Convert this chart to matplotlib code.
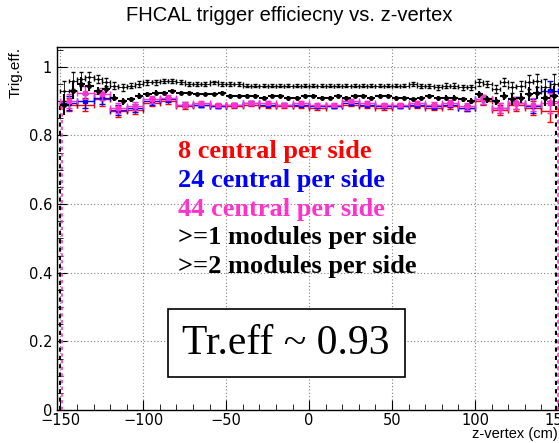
import numpy as np
import matplotlib.pyplot as plt
from matplotlib.ticker import MultipleLocator

# colored series: 10 cm bins from -150 to 150
z10 = np.arange(-145, 150, 10)
eff_8 = [0.89, 0.89, 0.905, 0.87, 0.875, 0.895, 0.90, 0.885, 0.89, 0.885,
         0.885, 0.89, 0.885, 0.885, 0.885, 0.88, 0.885, 0.89, 0.885, 0.88,
         0.885, 0.885, 0.88, 0.885, 0.88, 0.90, 0.875, 0.89, 0.88, 0.87]
eff_24 = [0.895, 0.90, 0.91, 0.875, 0.88, 0.90, 0.905, 0.89, 0.89, 0.885,
          0.89, 0.895, 0.89, 0.89, 0.89, 0.885, 0.885, 0.895, 0.89, 0.885,
          0.885, 0.89, 0.885, 0.89, 0.88, 0.905, 0.88, 0.895, 0.885, 0.93]
eff_44 = [0.90, 0.925, 0.92, 0.88, 0.885, 0.905, 0.91, 0.89, 0.895, 0.89,
          0.89, 0.895, 0.895, 0.89, 0.895, 0.89, 0.89, 0.90, 0.895, 0.89,
          0.89, 0.895, 0.89, 0.895, 0.885, 0.905, 0.88, 0.895, 0.89, 0.895]
err_col = [0.02, 0.02, 0.018, 0.015, 0.012, 0.01, 0.008, 0.007, 0.006, 0.006,
           0.006, 0.005, 0.005, 0.005, 0.005, 0.005, 0.005, 0.005, 0.005, 0.006,
           0.006, 0.006, 0.007, 0.008, 0.01, 0.012, 0.015, 0.018, 0.02, 0.03]

# black series: 5 cm bins
z5 = np.arange(-147.5, 150, 5)
eff_ge1 = [0.93, 0.96, 0.965, 0.97, 0.965, 0.955, 0.945, 0.94, 0.945, 0.95,
           0.955, 0.955, 0.96, 0.96, 0.955, 0.95, 0.95, 0.95, 0.955, 0.95,
           0.95, 0.95, 0.945, 0.945, 0.945, 0.945, 0.945, 0.945, 0.945, 0.945,
           0.945, 0.945, 0.945, 0.945, 0.945, 0.945, 0.945, 0.945, 0.945, 0.945,
           0.945, 0.945, 0.95, 0.945, 0.945, 0.94, 0.945, 0.945, 0.94, 0.94,
           0.955, 0.95, 0.935, 0.955, 0.94, 0.945, 0.955, 0.96, 0.94, 0.95]
eff_ge2 = [0.89, 0.93, 0.95, 0.945, 0.93, 0.935, 0.91, 0.90, 0.905, 0.915,
           0.92, 0.925, 0.925, 0.93, 0.925, 0.925, 0.92, 0.92, 0.92, 0.925,
           0.915, 0.915, 0.915, 0.915, 0.91, 0.915, 0.915, 0.91, 0.91, 0.915,
           0.915, 0.91, 0.91, 0.915, 0.91, 0.915, 0.915, 0.91, 0.915, 0.915,
           0.91, 0.91, 0.905, 0.91, 0.915, 0.91, 0.91, 0.91, 0.905, 0.90,
           0.92, 0.905, 0.90, 0.915, 0.905, 0.91, 0.92, 0.925, 0.91, 0.915]
err_blk = [0.03, 0.025, 0.02, 0.015, 0.012, 0.012, 0.01, 0.01, 0.008, 0.008,
           0.007, 0.007, 0.006, 0.006, 0.006, 0.005, 0.005, 0.005, 0.005, 0.005,
           0.005, 0.005, 0.005, 0.005, 0.005, 0.005, 0.005, 0.005, 0.005, 0.005,
           0.005, 0.005, 0.005, 0.005, 0.005, 0.005, 0.005, 0.005, 0.005, 0.005,
           0.005, 0.005, 0.005, 0.006, 0.006, 0.006, 0.007, 0.007, 0.008, 0.008,
           0.01, 0.01, 0.012, 0.012, 0.015, 0.015, 0.02, 0.02, 0.025, 0.03]

labels = ["8 central per side", "24 central per side", "44 central per side",
          ">=1 modules per side", ">=2 modules per side"]
label_colors = ["#ff0000", "#0000ff", "#ff33cc", "black", "black"]

fig = plt.figure(figsize=(5.59, 4.43), dpi=100)
ax = fig.add_axes([0.102, 0.0745, 0.902, 0.8195])

# edge bins drawn from zero
for xe in (-150, 149):
    ax.vlines(xe, 0, 0.9, colors="black", linestyles=(0, (2, 2)), lw=1.5, zorder=3)
    ax.vlines(xe + 0.8, 0, 0.9, colors="#ff33cc", linestyles=(0, (2, 2)), lw=1.2, zorder=3)

ax.errorbar(z10, eff_8, xerr=5, yerr=err_col, fmt="none", ecolor="#ff0000",
            elinewidth=1, capsize=2, zorder=4)
ax.errorbar(z10, eff_24, xerr=5, yerr=err_col, fmt="s", color="#0000ff", ms=2.5,
            elinewidth=1, capsize=2, zorder=5)
ax.errorbar(z10, eff_44, xerr=5, yerr=err_col, fmt="s", color="#ff33cc", ms=2.5,
            elinewidth=1, capsize=2, zorder=6)

ax.errorbar(z5, eff_ge2, xerr=2.5, yerr=err_blk, fmt="o", color="black", ms=2.5,
            elinewidth=1.5, capsize=0, zorder=7)
ax.errorbar(z5, eff_ge1, xerr=2.5, yerr=err_blk, fmt=".", color="black", ms=2,
            elinewidth=0.6, capsize=1.5, zorder=7)

ax.set_xlim(-152, 152)
ax.set_ylim(0, 1.058)
ax.xaxis.set_major_locator(MultipleLocator(50))
ax.xaxis.set_minor_locator(MultipleLocator(10))
ax.yaxis.set_major_locator(MultipleLocator(0.2))
ax.yaxis.set_minor_locator(MultipleLocator(0.05))
ax.tick_params(which="both", direction="in", labelsize=10.5, top=False, right=False)
ax.tick_params(which="major", length=7)
ax.tick_params(which="minor", length=4)
ax.tick_params(axis="x", pad=2)
ax.set_yticks([0, 0.2, 0.4, 0.6, 0.8, 1.0])
ax.set_yticklabels(["0", "0.2", "0.4", "0.6", "0.8", "1"])
ax.grid(True, which="major", color="gray", linestyle=(0, (1, 2)), lw=0.8)
for sp in ax.spines.values():
    sp.set_linewidth(1)

fig.text(0.517, 0.965, "FHCAL trigger efficiecny vs. z-vertex", ha="center",
         va="center", fontsize=14.5, family="Liberation Sans")
fig.text(0.016, 0.894, "Trig.eff.", rotation=90, ha="left", va="top",
         fontsize=11, family="Liberation Sans")
fig.text(0.998, 0.005, "z-vertex (cm)", ha="right", va="bottom",
         fontsize=10.5, family="Liberation Sans")

for i, (lab, col) in enumerate(zip(labels, label_colors)):
    fig.text(0.318, 0.658 - i * 0.065, lab, color=col, fontsize=19,
             fontweight="bold", family="Liberation Serif", va="center")

fig.text(0.512, 0.225, "Tr.eff ~ 0.93", ha="center", va="center", fontsize=30,
         family="Liberation Serif",
         bbox=dict(boxstyle="square,pad=0.35", fc="white", ec="black", lw=1.2))

fig.savefig("out.png", dpi=100)
